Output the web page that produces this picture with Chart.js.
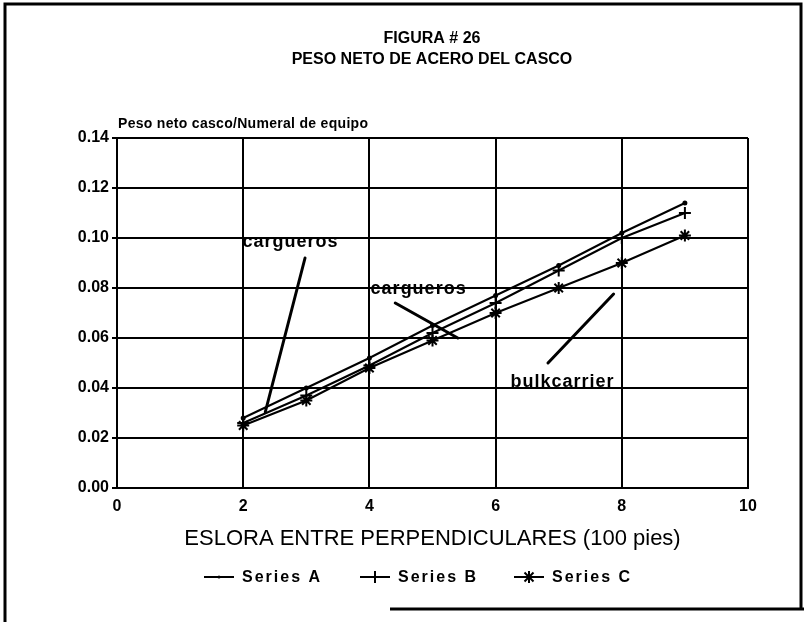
<!DOCTYPE html>
<html>
<head>
<meta charset="utf-8">
<script src="https://cdn.jsdelivr.net/npm/chart.js@4.4.0/dist/chart.umd.min.js"></script>
<style>
  html, body { margin: 0; padding: 0; background: #fff; }
  #wrap { width: 804px; height: 622px; }
</style>
</head>
<body>
<div id="wrap"><canvas id="hullChart" width="804" height="622"></canvas></div>
<script>
// data
const xValues = [2, 3, 4, 5, 6, 7, 8, 9];
const seriesA = [0.028, 0.040, 0.052, 0.065, 0.077, 0.089, 0.102, 0.114];
const seriesB = [0.026, 0.037, 0.049, 0.062, 0.074, 0.087, 0.100, 0.110];
const seriesC = [0.025, 0.035, 0.048, 0.059, 0.070, 0.080, 0.090, 0.101];
const seriesNames = ['Series A', 'Series B', 'Series C'];

const titleLines = ['FIGURA # 26', 'PESO NETO DE ACERO DEL CASCO'];
const yCaption = 'Peso neto casco/Numeral de equipo';
const xCaption = 'ESLORA ENTRE PERPENDICULARES (100 pies)';

// notes, in data units
const noteLabels = ['cargueros', 'cargueros', 'bulkcarrier'];
const noteTextAt = [[2.75, 0.0985], [4.78, 0.0795], [7.06, 0.0425]];
const noteLineFrom = [[2.98, 0.092], [4.41, 0.074], [6.83, 0.050]];
const noteLineTo = [[2.35, 0.0304], [5.40, 0.060], [7.87, 0.0776]];

const FONT = '"Liberation Sans", Arial, sans-serif';

function toPoints(ys) {
    return xValues.map(function (x, i) { return { x: x, y: ys[i] }; });
}

function marker(ctx, style, x, y) {
    ctx.save();
    ctx.strokeStyle = '#000';
    ctx.fillStyle = '#000';
    ctx.lineWidth = 2;
    ctx.beginPath();
    if (style === 'circle') {
        ctx.arc(x, y, 1.5, 0, Math.PI * 2);
        ctx.fill();
    } else {
        ctx.moveTo(x, y - 6); ctx.lineTo(x, y + 6);
        ctx.moveTo(x - 6, y); ctx.lineTo(x + 6, y);
        if (style === 'star') {
            ctx.moveTo(x - 4.5, y - 4.5); ctx.lineTo(x + 4.5, y + 4.5);
            ctx.moveTo(x - 4.5, y + 4.5); ctx.lineTo(x + 4.5, y - 4.5);
        }
        ctx.stroke();
    }
    ctx.restore();
}

const extras = {
    id: 'extras',
    beforeDraw: function (chart) {
        const ctx = chart.ctx;
        ctx.save();
        ctx.fillStyle = '#fff';
        ctx.fillRect(0, 0, chart.width, chart.height);
        ctx.restore();
    },
    afterDraw: function (chart) {
        const ctx = chart.ctx;
        const xs = chart.scales.x, ys = chart.scales.y;
        const area = chart.chartArea;
        ctx.save();
        // outer frame
        ctx.strokeStyle = '#000';
        ctx.lineWidth = 3;
        ctx.beginPath();
        ctx.moveTo(5, 622); ctx.lineTo(5, 4); ctx.lineTo(801, 4); ctx.lineTo(801, 609);
        ctx.moveTo(390, 609); ctx.lineTo(804, 609);
        ctx.stroke();

        // titles
        ctx.fillStyle = '#000';
        ctx.textAlign = 'center';
        ctx.textBaseline = 'middle';
        ctx.font = 'bold 16px ' + FONT;
        ctx.fillText(titleLines[0], 432, 39);
        ctx.fillText(titleLines[1], 432, 60);

        // y caption above the plot
        ctx.textAlign = 'left';
        ctx.font = 'bold 14px ' + FONT;
        ctx.letterSpacing = '0.3px';
        ctx.fillText(yCaption, area.left + 1, 124);

        // notes with pointer lines
        ctx.lineWidth = 3;
        ctx.lineCap = 'round';
        ctx.textAlign = 'center';
        ctx.font = 'bold 18px ' + FONT;
        ctx.letterSpacing = '1px';
        noteLabels.forEach(function (txt, i) {
            ctx.beginPath();
            ctx.moveTo(xs.getPixelForValue(noteLineFrom[i][0]), ys.getPixelForValue(noteLineFrom[i][1]));
            ctx.lineTo(xs.getPixelForValue(noteLineTo[i][0]), ys.getPixelForValue(noteLineTo[i][1]));
            ctx.stroke();
            ctx.fillText(txt, xs.getPixelForValue(noteTextAt[i][0]), ys.getPixelForValue(noteTextAt[i][1]));
        });

        // legend
        const legendX = [204, 360, 514];
        const styles = ['circle', 'cross', 'star'];
        ctx.textAlign = 'left';
        ctx.font = 'bold 16px ' + FONT;
        ctx.letterSpacing = '2px';
        ctx.lineWidth = 2;
        ctx.lineCap = 'butt';
        seriesNames.forEach(function (name, i) {
            const lx = legendX[i], ly = 577;
            ctx.beginPath();
            ctx.moveTo(lx, ly); ctx.lineTo(lx + 30, ly);
            ctx.stroke();
            marker(ctx, styles[i], lx + 15, ly);
            ctx.fillText(name, lx + 38, ly + 1);
        });
        ctx.restore();
    }
};

const lineDefaults = {
    borderColor: '#000',
    backgroundColor: '#000',
    borderWidth: 2,
    pointBorderWidth: 2,
    pointBorderColor: '#000',
    pointBackgroundColor: '#000',
    tension: 0,
    fill: false
};

const config = {
    type: 'line',
    data: {
        datasets: [
            Object.assign({ label: seriesNames[0], data: toPoints(seriesA), pointStyle: 'circle', pointRadius: 1.5 }, lineDefaults),
            Object.assign({ label: seriesNames[1], data: toPoints(seriesB), pointStyle: 'cross', pointRadius: 6 }, lineDefaults),
            Object.assign({ label: seriesNames[2], data: toPoints(seriesC), pointStyle: 'star', pointRadius: 6 }, lineDefaults)
        ]
    },
    options: {
        responsive: false,
        animation: false,
        layout: { padding: { left: 10, right: 56, top: 138, bottom: 70 } },
        plugins: {
            legend: { display: false },
            title: { display: false },
            tooltip: { enabled: false }
        },
        scales: {
            x: {
                type: 'linear',
                min: 0,
                max: 10,
                afterFit: function (s) { s.height = 64; },
                ticks: {
                    stepSize: 2,
                    color: '#000',
                    padding: 9,
                    font: { family: FONT, size: 16, weight: 'bold' }
                },
                grid: { color: '#000', lineWidth: 2, drawTicks: false },
                border: { color: '#000', width: 2 },
                title: {
                    display: true,
                    text: xCaption,
                    color: '#000',
                    padding: 0,
                    font: { family: FONT, size: 22 }
                }
            },
            y: {
                min: 0,
                max: 0.14,
                afterFit: function (s) { s.width = 107; },
                ticks: {
                    stepSize: 0.02,
                    color: '#000',
                    padding: 3,
                    font: { family: FONT, size: 16, weight: 'bold' },
                    callback: function (v) { return Number(v).toFixed(2); }
                },
                grid: { color: '#000', lineWidth: 2, tickLength: 5 },
                border: { color: '#000', width: 2 }
            }
        }
    },
    plugins: [extras]
};

new Chart(document.getElementById('hullChart'), config);
</script>
</body>
</html>
